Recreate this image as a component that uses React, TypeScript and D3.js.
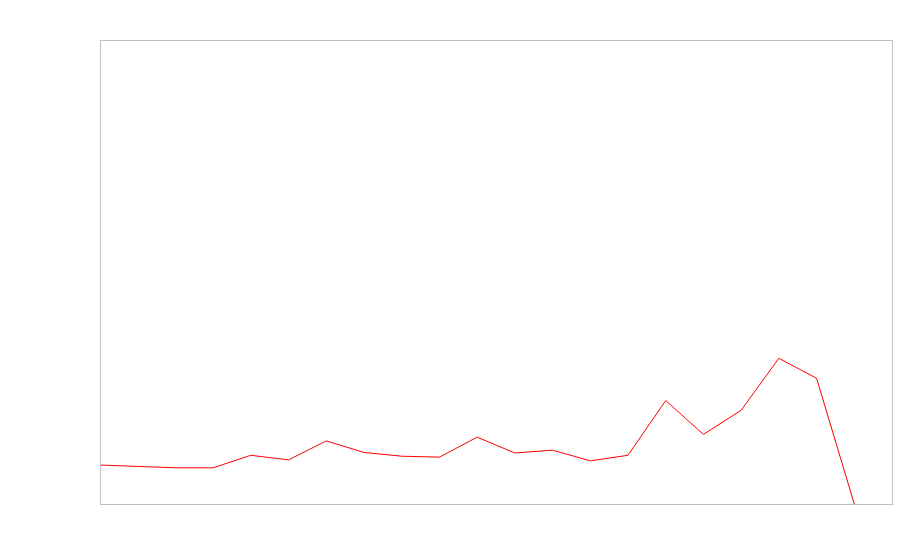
import React, { useRef, useEffect } from 'react';
import * as d3 from 'd3';

// values (no axes shown in the original)
const steps = d3.range(21);
const values = [8.4, 8.1, 7.8, 7.8, 10.5, 9.5, 13.6, 11.1, 10.3, 10.1, 14.4, 11.0, 11.6, 9.3, 10.5, 22.3, 15.0, 20.2, 31.4, 27.1, 0];

const App = () => {
  const chartRef = useRef<SVGSVGElement | null>(null);

  useEffect(() => {
    const width = 900;
    const height = 560;
    const margin = { top: 40, right: 8, bottom: 56, left: 100 };

    const x = d3.scaleLinear()
      .domain([0, 21])
      .range([margin.left, width - margin.right]);

    const y = d3.scaleLinear()
      .domain([0, 100])
      .range([height - margin.bottom, margin.top]);

    const svg = d3.select(chartRef.current);
    svg.selectAll('*').remove();

    svg.append('rect')
      .attr('width', width)
      .attr('height', height)
      .attr('fill', '#fff');

    svg.append('defs')
      .append('clipPath')
      .attr('id', 'plot-clip')
      .append('rect')
      .attr('x', margin.left)
      .attr('y', margin.top)
      .attr('width', width - margin.left - margin.right)
      .attr('height', height - margin.top - margin.bottom);

    const line = d3.line<number>()
      .x((d, i) => x(steps[i]))
      .y(d => y(d));

    svg.append('path')
      .datum(values)
      .attr('clip-path', 'url(#plot-clip)')
      .attr('fill', 'none')
      .attr('stroke', '#ff0000')
      .attr('stroke-width', 1)
      .attr('d', line);

    // plot frame
    svg.append('rect')
      .attr('x', margin.left + 0.5)
      .attr('y', margin.top + 0.5)
      .attr('width', width - margin.left - margin.right)
      .attr('height', height - margin.top - margin.bottom)
      .attr('fill', 'none')
      .attr('stroke', '#c0c0c0')
      .attr('stroke-width', 1);
  }, []);

  return (
    <div style={{ position: 'absolute', left: 0, top: 0 }}>
      <svg ref={chartRef} width={900} height={560} style={{ display: 'block' }} />
    </div>
  );
};

export default App;
